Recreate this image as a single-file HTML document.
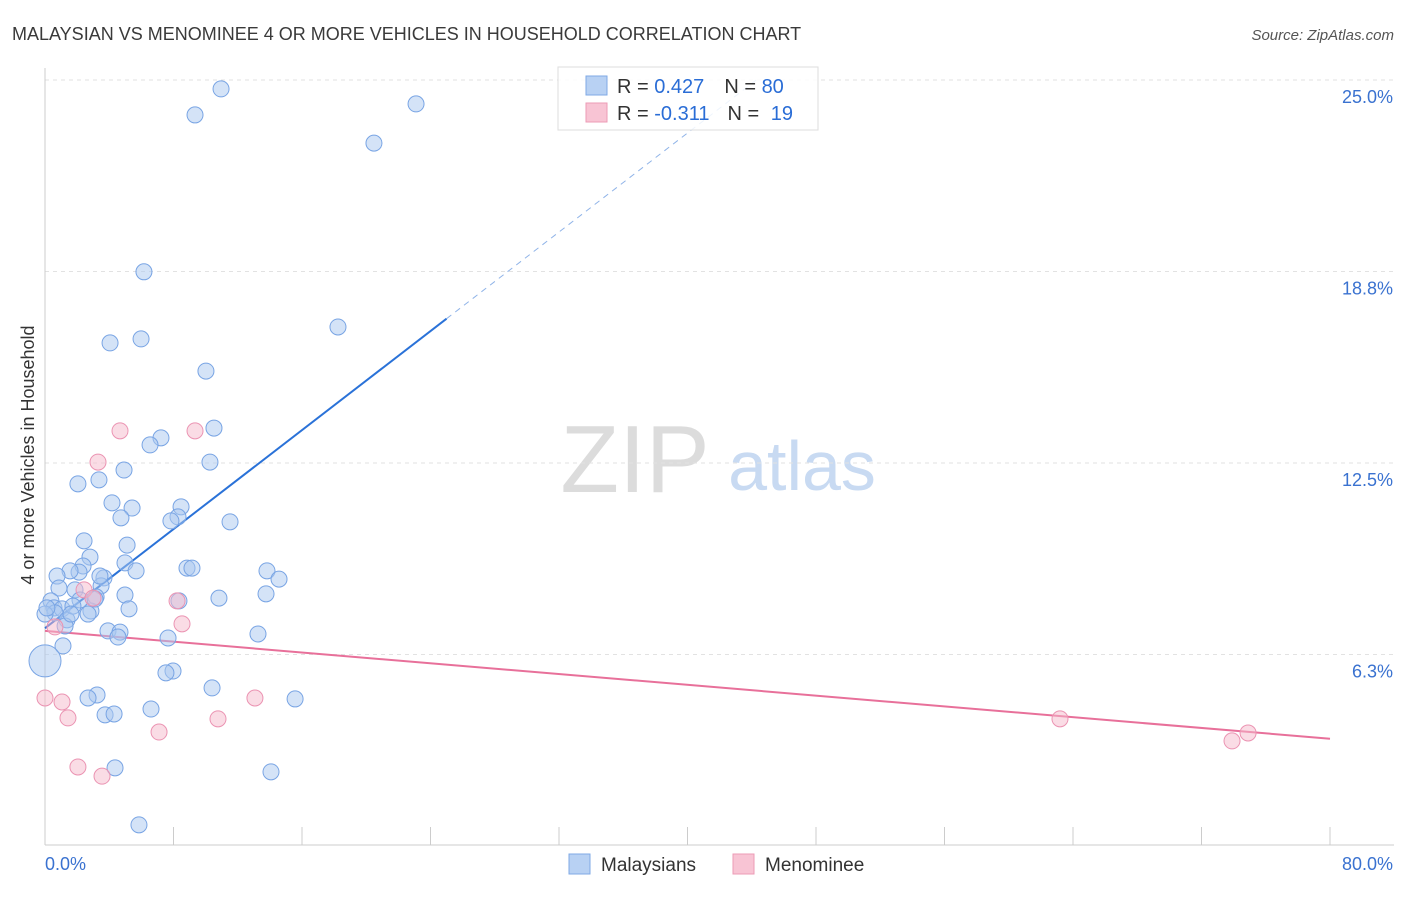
<!DOCTYPE html>
<html><head><meta charset="utf-8">
<style>
body{margin:0;background:#fff;font-family:"Liberation Sans",sans-serif;}
svg text{font-family:"Liberation Sans",sans-serif;}
</style></head>
<body>
<svg id="chart" width="1406" height="892" xmlns="http://www.w3.org/2000/svg">
<text x="12" y="40" font-size="18" fill="#3a3a3a">MALAYSIAN VS MENOMINEE 4 OR MORE VEHICLES IN HOUSEHOLD CORRELATION CHART</text>
<text x="1394" y="40" font-size="15" fill="#555" font-style="italic" text-anchor="end">Source: ZipAtlas.com</text>
<text transform="translate(34,455) rotate(-90)" font-size="18" fill="#333" text-anchor="middle">4 or more Vehicles in Household</text>
<g>
<text x="635" y="492" font-size="96" fill="#dcdcdc" font-family="Liberation Serif" text-anchor="middle">ZIP</text>
<text x="802" y="490" font-size="70" fill="#c8daf2" text-anchor="middle">atlas</text>
</g>
<g id="grid"></g><g id="axes"></g><g id="lines"></g><g id="pts"></g>
<g>
<rect x="558" y="67" width="260" height="63" fill="#fff" fill-opacity="0.85" stroke="#ddd"/>
<rect x="586" y="76" width="21" height="19" fill="#b8d1f3" stroke="#7fa9e6"/>
<rect x="586" y="103" width="21" height="19" fill="#f8c4d4" stroke="#ec9bb6"/>
<text x="617" y="93" font-size="20" fill="#333">R = <tspan fill="#2a6dd6">0.427</tspan><tspan dx="20">N = </tspan><tspan fill="#2a6dd6">80</tspan></text>
<text x="617" y="120" font-size="20" fill="#333">R = <tspan fill="#2a6dd6">-0.311</tspan><tspan dx="18">N = </tspan><tspan fill="#2a6dd6" dx="6">19</tspan></text>
</g>
<g>
<rect x="569" y="854" width="21" height="20" fill="#b8d1f3" stroke="#7fa9e6"/>
<text x="601" y="871" font-size="19" fill="#333">Malaysians</text>
<rect x="733" y="854" width="21" height="20" fill="#f8c4d4" stroke="#ec9bb6"/>
<text x="765" y="871" font-size="19" fill="#333">Menominee</text>
</g>
</svg>
<script>
const xTicks=[0,8,16,24,32,40,48,56,64,72,80];
const yTicks=[6.25,12.5,18.75,25];
const yTickLabels=["6.3%","12.5%","18.8%","25.0%"];
const xTickLabels=["0.0%","80.0%"];
const blueX=[10.96,9.34,23.10,20.48,6.16,18.24,4.05,5.98,10.02,10.52,7.22,6.54,10.27,4.92,2.05,3.36,4.17,5.42,8.47,8.28,7.84,4.73,11.52,2.43,5.11,2.80,4.98,2.37,5.67,2.12,1.56,8.84,9.15,13.82,14.57,3.67,3.49,0.75,0.87,1.87,3.18,4.98,8.34,10.83,13.76,0.37,0.56,1.06,2.86,2.68,5.23,0.62,1.37,1.25,0,3.92,4.67,4.54,7.66,13.26,1.12,7.97,7.53,3.24,2.68,10.40,15.57,6.60,3.74,4.30,4.36,14.07,5.85,3.42,0.12,2.18,1.74,3.11,1.62,0];
const blueY=[24.71,23.86,24.22,22.94,18.74,16.94,16.42,16.55,15.50,13.64,13.32,13.09,12.53,12.27,11.82,11.95,11.20,11.03,11.07,10.74,10.61,10.71,10.58,9.96,9.82,9.43,9.24,9.14,8.98,8.94,8.98,9.07,9.07,8.98,8.71,8.75,8.49,8.81,8.42,8.36,8.13,8.19,8.00,8.09,8.23,8.00,7.77,7.74,7.67,7.57,7.74,7.61,7.38,7.18,7.57,7.02,6.98,6.82,6.79,6.92,6.53,5.71,5.65,4.93,4.83,5.16,4.80,4.47,4.28,4.31,2.55,2.42,0.69,8.81,7.77,8.03,7.83,8.06,7.57,6.04];
const blueSize=[1,1,1,1,1,1,1,1,1,1,1,1,1,1,1,1,1,1,1,1,1,1,1,1,1,1,1,1,1,1,1,1,1,1,1,1,1,1,1,1,1,1,1,1,1,1,1,1,1,1,1,1,1,1,1,1,1,1,1,1,1,1,1,1,1,1,1,1,1,1,1,1,1,1,1,1,1,1,1,2];
const pinkX=[4.67,9.34,3.30,2.43,2.99,8.22,8.53,0.62,0,1.06,1.43,10.77,13.07,7.10,2.05,3.55,63.19,73.90,74.90];
const pinkY=[13.55,13.55,12.53,8.36,8.09,8.00,7.25,7.15,4.83,4.70,4.18,4.15,4.83,3.72,2.58,2.28,4.15,3.43,3.69];
const blueTrend=[7.11,0.404]; // intercept, slope
const pinkTrend=[7.02,-0.044];
const blueSolidEnd=25;

const NS="http://www.w3.org/2000/svg";
const X=v=>45+v/80*1285, Y=v=>846-v*30.64;
function mk(p,t,a){const e=document.createElementNS(NS,t);for(const k in a)e.setAttribute(k,a[k]);document.getElementById(p).appendChild(e);return e;}
yTicks.forEach((t,i)=>{
 let g=mk('grid','line',{x1:45,x2:1394,y1:Y(t),y2:Y(t),stroke:'#e2e2e2','stroke-dasharray':'4,4'});
 
 let l=mk('axes','text',{x:1393,y:Y(t)+23,'font-size':18,fill:'#3a72d0','text-anchor':'end'});l.textContent=yTickLabels[i];
 
});
let ax=mk('axes','line',{x1:45,x2:1394,y1:845,y2:845,stroke:'#ccc'});

let ay=mk('axes','line',{x1:45,x2:45,y1:68,y2:845,stroke:'#ccc'});

xTicks.forEach(t=>{let e=mk('axes','line',{x1:X(t),x2:X(t),y1:827,y2:845,stroke:'#ccc'});
 });
[[0,'start',45],[80,'end',1393]].forEach((d,i)=>{let l=mk('axes','text',{x:d[2],y:870,'font-size':18,fill:'#3a72d0','text-anchor':d[1]});l.textContent=xTickLabels[i];
 });
const bx2=(blueSolidEnd-blueTrend[0])/blueTrend[1]*0+blueSolidEnd;
let bl=mk('lines','line',{x1:X(0),y1:Y(blueTrend[0]),x2:X(blueSolidEnd),y2:Y(blueTrend[0]+blueTrend[1]*blueSolidEnd),stroke:'#2a72d8','stroke-width':2});

const xe=(25-blueTrend[0])/blueTrend[1];
let bd=mk('lines','line',{x1:X(blueSolidEnd),y1:Y(blueTrend[0]+blueTrend[1]*blueSolidEnd),x2:X(xe),y2:Y(25),stroke:'#8fb3e8','stroke-width':1,'stroke-dasharray':'6,5'});

blueX.forEach((v,i)=>{let c=mk('pts','circle',{cx:X(v),cy:Y(blueY[i]),r:8*blueSize[i],fill:'#a9c8f0','fill-opacity':0.5,stroke:'#78a4e4','stroke-width':1});
 });
pinkX.forEach((v,i)=>{let c=mk('pts','circle',{cx:X(v),cy:Y(pinkY[i]),r:8,fill:'#f6b9cc','fill-opacity':0.5,stroke:'#eb93b2','stroke-width':1});
 });
let pl=mk('lines','line',{x1:X(0),y1:Y(pinkTrend[0]),x2:X(80),y2:Y(pinkTrend[0]+pinkTrend[1]*80),stroke:'#e8709a','stroke-width':2});

</script>
</body></html>
